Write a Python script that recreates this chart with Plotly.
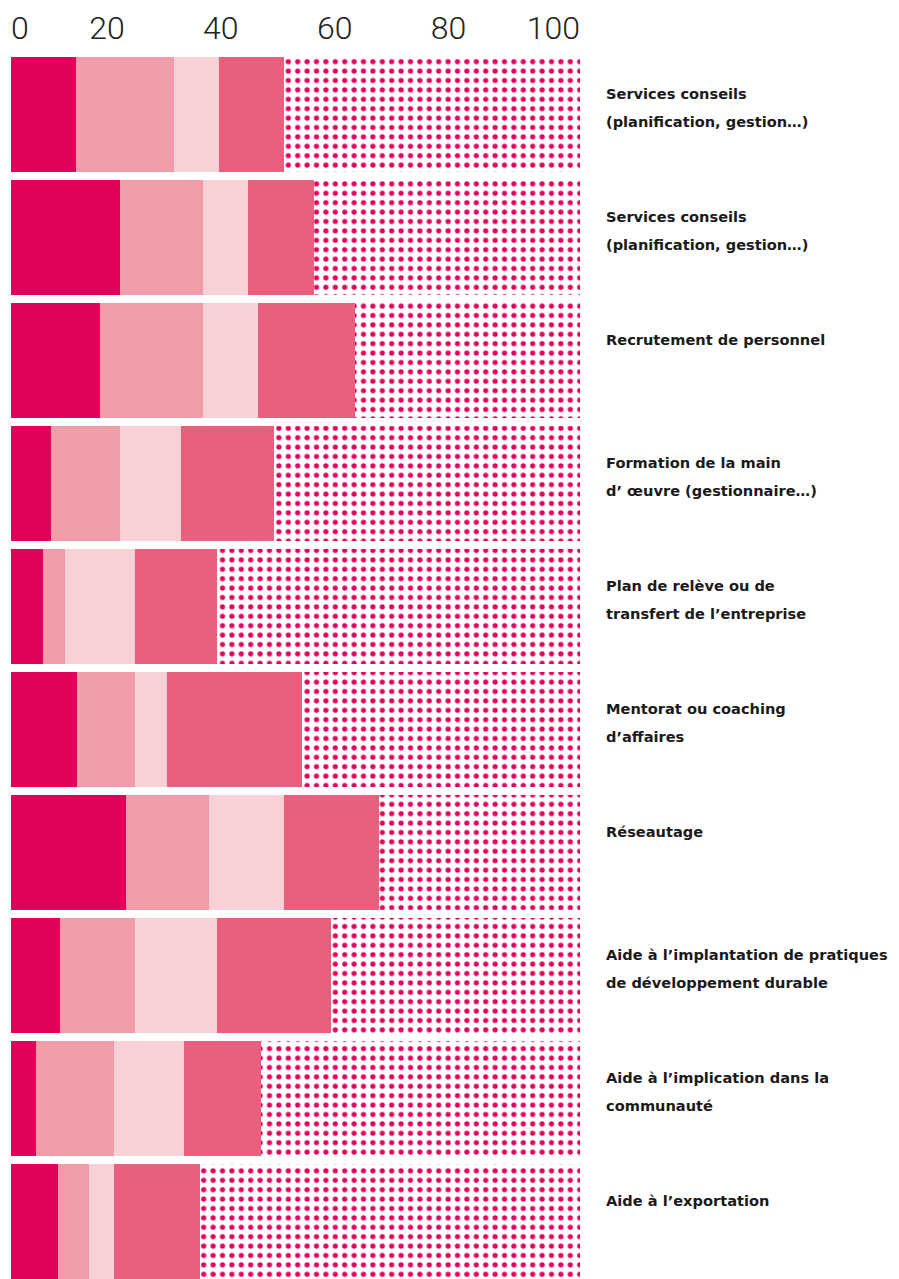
import plotly.graph_objects as go

LABELS = [
    "Services conseils<br>(planification, gestion…)",
    "Services conseils<br>(planification, gestion…)",
    "Recrutement de personnel",
    "Formation de la main<br>d’ œuvre (gestionnaire…)",
    "Plan de relève ou de<br>transfert de l’entreprise",
    "Mentorat ou coaching<br>d’affaires",
    "Réseautage",
    "Aide à l’implantation de pratiques<br>de développement durable",
    "Aide à l’implication dans la<br>communauté",
    "Aide à l’exportation",
]

SEG_1 = [11.4, 19.2, 15.6, 7.0, 5.6, 11.6, 20.2, 8.6, 4.4, 8.3]
SEG_2 = [17.2, 14.6, 18.1, 12.1, 3.9, 10.2, 14.6, 13.2, 13.7, 5.4]
SEG_3 = [7.9, 7.9, 9.7, 10.7, 12.3, 5.6, 13.2, 14.4, 12.3, 4.4]
SEG_4 = [11.4, 11.6, 17.0, 16.5, 14.4, 23.7, 16.7, 20.0, 13.5, 15.1]

TICKS = [0, 20, 40, 60, 80, 100]

COLORS = ["#E1005A", "#F09DA9", "#F8D1D6", "#E8607D"]
DOT_CLR = "#E2005A"

rows = list(range(len(LABELS)))
rest = [round(100 - a - b - c - d, 1) for a, b, c, d in zip(SEG_1, SEG_2, SEG_3, SEG_4)]

fig = go.Figure()
for seg, clr in zip([SEG_1, SEG_2, SEG_3, SEG_4], COLORS):
    fig.add_trace(
        go.Bar(
            y=rows,
            x=seg,
            orientation="h",
            marker=dict(color=clr, line=dict(width=0)),
            hoverinfo="x",
        )
    )

# remaining share up to 100, dotted
fig.add_trace(
    go.Bar(
        y=rows,
        x=rest,
        orientation="h",
        marker=dict(
            color="white",
            line=dict(width=0),
            pattern=dict(
                shape=".",
                fillmode="replace",
                bgcolor="white",
                fgcolor=DOT_CLR,
                fgopacity=1,
                size=9.4,
                solidity=0.24,
            ),
        ),
        hoverinfo="x",
    )
)

# labels on the right, first line sits near the top of the bar
for i, lab in enumerate(LABELS):
    for j, line in enumerate(lab.split("<br>")):
        fig.add_annotation(
            x=1,
            xref="paper",
            y=i,
            yref="y",
            xanchor="left",
            yanchor="middle",
            xshift=24,
            yshift=21 - 28 * j,
            text=line,
            showarrow=False,
            font=dict(family="DejaVu Sans", size=14.6, color="#1a1a1a", weight=700),
        )

tick_font = dict(family="Roboto", size=32, color="#222222", weight=300)

# the page body has an 8px margin, so the figure is 8px smaller
fig.update_layout(
    width=891,
    height=1271,
    margin=dict(l=3, r=319, t=49, b=0),
    barmode="stack",
    bargap=0.065,
    showlegend=False,
    plot_bgcolor="white",
    paper_bgcolor="white",
    xaxis=dict(
        range=[0, 100],
        side="top",
        tickvals=TICKS[1:],
        ticktext=[str(t) for t in TICKS[1:]],
        ticklabelposition="outside left",
        ticks="",
        ticklabelstandoff=11,
        showgrid=False,
        zeroline=False,
        showline=False,
        tickfont=tick_font,
    ),
    xaxis2=dict(
        range=[0, 100],
        overlaying="x",
        matches="x",
        side="top",
        tickvals=TICKS[:1],
        ticktext=[str(TICKS[0])],
        ticklabelposition="outside right",
        ticks="",
        ticklabelstandoff=11,
        showgrid=False,
        zeroline=False,
        showline=False,
        tickfont=tick_font,
    ),
    yaxis=dict(
        range=[9.4675, -0.4675],
        showticklabels=False,
        showgrid=False,
        zeroline=False,
        showline=False,
    ),
)

# empty trace so the second top axis is drawn
fig.add_trace(go.Scatter(x=[None], y=[None], xaxis="x2", showlegend=False, hoverinfo="skip"))

fig.write_html("out.html")
